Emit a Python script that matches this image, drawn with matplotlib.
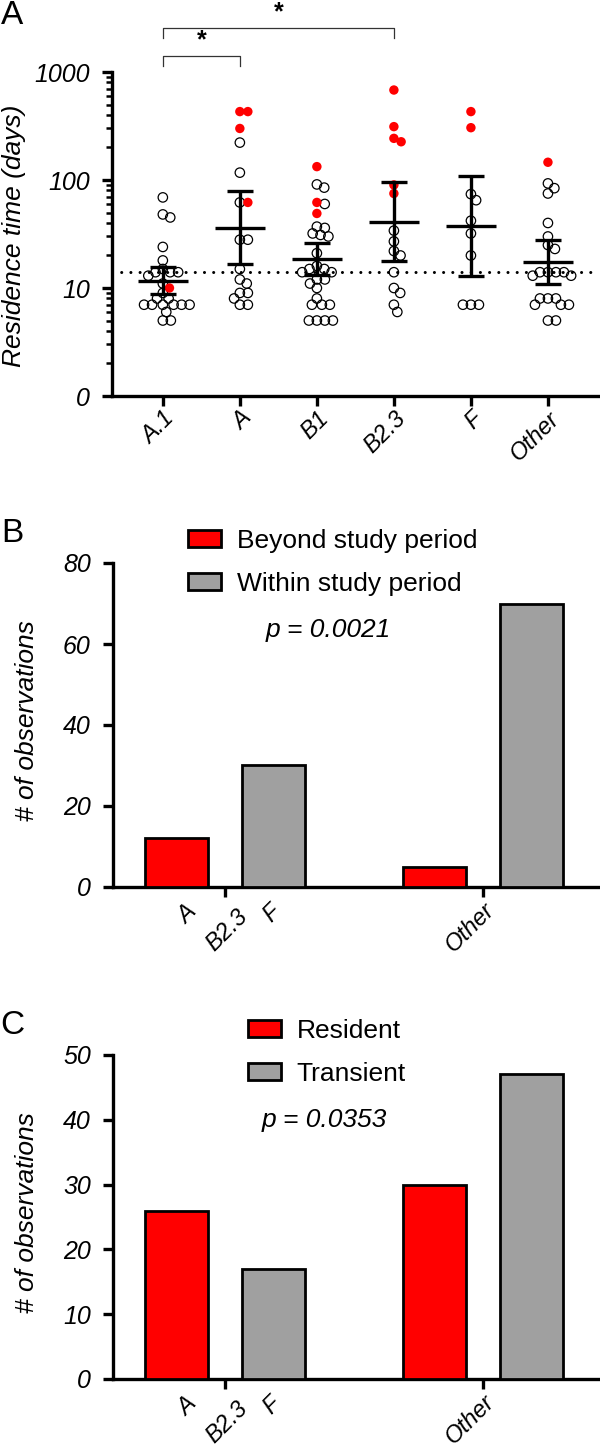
import numpy as np
import matplotlib.pyplot as plt
from matplotlib.patches import Patch
from matplotlib.ticker import LogLocator, NullFormatter, FixedLocator, FixedFormatter

plt.rcParams['font.family'] = ['Liberation Sans', 'DejaVu Sans']

W, H = 600, 1449

# ---- panel A: residence time per group (days) ----
cats = ['A.1', 'A', 'B1', 'B2.3', 'F', 'Other']
open_pts = [
    [69, 48, 45, 24, 18, 15, 14, 14, 14, 13, 11, 9, 8, 8, 7, 7, 7, 7, 7, 7, 6, 5, 5],
    [222, 117, 62, 28, 28, 15, 12, 11, 9, 9, 8, 7, 7],
    [91, 85, 60, 37, 36, 32, 31, 30, 21, 16, 15, 15, 14, 14, 12, 12, 11, 10, 8,
     7, 7, 7, 5, 5, 5, 5],
    [34, 27, 22, 20, 14, 10, 9, 7, 6],
    [74, 65, 42, 32, 20, 7, 7, 7],
    [93, 84, 75, 40, 30, 25, 23, 14, 14, 14, 14, 13, 13, 8, 8, 8, 7, 7, 7, 5, 5],
]
red_pts = [
    [10],
    [430, 430, 300, 62],
    [133, 62, 49],
    [681, 312, 243, 226, 90, 75],
    [430, 305],
    [146],
]
gmean = [11.5, 36, 18.4, 41, 37.7, 17.5]
ci_lo = [8.8, 16.6, 13.2, 17.8, 13, 11]
ci_hi = [15.8, 79, 26.3, 95, 109, 27.8]
cutoff = 14

# ---- panels B and C: counts ----
bar_groups = ['A/B2.3/F', 'Other']
beyond = [12, 5]
within = [30, 70]
resident = [26, 30]
transient = [17, 47]

RED = '#ff0000'
GREY = '#a0a0a0'
LW = 2.4


def fx(x):
    return x / W


def fy(y):
    return 1 - y / H


def px_axes(fig, left, top, right, bottom):
    return fig.add_axes([fx(left), fy(bottom), (right - left) / W, (bottom - top) / H])


def style_axes(ax):
    for s in ['top', 'right']:
        ax.spines[s].set_visible(False)
    for s in ['left', 'bottom']:
        ax.spines[s].set_linewidth(LW)
    ax.tick_params(which='major', length=7, width=LW, labelsize=18)
    ax.tick_params(axis='y', which='major', pad=9)
    ax.tick_params(axis='x', which='major', pad=1, labelsize=17)
    ax.tick_params(which='minor', length=4, width=1.8)
    for lab in ax.get_yticklabels():
        lab.set_fontstyle('italic')


def swarm(ax, x0, vals, d=8.0):
    # simple beeswarm in pixel space
    pts = ax.transData.transform(np.column_stack([np.full(len(vals), x0), vals]))
    ypx = pts[:, 1]
    order = np.argsort(-np.asarray(vals), kind='stable')
    placed = []
    xoff = np.zeros(len(vals))
    for i in order:
        cands = [0.0]
        for xj, yj in placed:
            dy = ypx[i] - yj
            if abs(dy) < d:
                dx = np.sqrt(d * d - dy * dy)
                cands += [xj + dx, xj - dx]
        cands.sort(key=abs)
        for c in cands:
            if all((c - xj) ** 2 + (ypx[i] - yj) ** 2 >= d * d - 1e-6 for xj, yj in placed):
                xoff[i] = c
                break
        placed.append((xoff[i], ypx[i]))
    back = ax.transData.inverted().transform(np.column_stack([pts[:, 0] + xoff, ypx]))
    return back[:, 0]


fig = plt.figure(figsize=(W / 100, H / 100), dpi=100)

# ================= A =================
axA = px_axes(fig, 112, 72, 598, 396)
axA.set_yscale('log')
axA.set_ylim(1, 1000)
axA.set_xlim(-0.66, 5.65)
pos = np.arange(len(cats))

for i in range(len(cats)):
    vals = open_pts[i] + red_pts[i]
    xs = swarm(axA, pos[i], vals)
    n = len(open_pts[i])
    axA.scatter(xs[:n], open_pts[i], s=46, facecolors='none', edgecolors='k',
                linewidths=0.9, zorder=3, clip_on=False)
    axA.scatter(xs[n:], red_pts[i], s=46, facecolors=RED, edgecolors='none',
                zorder=3, clip_on=False)

axA.hlines(gmean, pos - 0.325, pos + 0.325, color='k', lw=LW, zorder=5)
axA.hlines(ci_lo, pos - 0.165, pos + 0.165, color='k', lw=LW, zorder=5)
axA.hlines(ci_hi, pos - 0.165, pos + 0.165, color='k', lw=LW, zorder=5)
axA.vlines(pos, ci_lo, ci_hi, color='k', lw=LW, zorder=5)
axA.axhline(cutoff, color='k', lw=2.2, linestyle=(0, (0.01, 3)),
            dash_capstyle='round', zorder=4)

axA.yaxis.set_major_locator(FixedLocator([1, 10, 100, 1000]))
axA.yaxis.set_major_formatter(FixedFormatter(['0', '10', '100', '1000']))
axA.yaxis.set_minor_locator(LogLocator(base=10, subs=np.arange(2, 10)))
axA.yaxis.set_minor_formatter(NullFormatter())
axA.set_xticks(pos)
axA.set_xticklabels(cats, rotation=45, ha='right', rotation_mode='anchor',
                    fontstyle='italic')
style_axes(axA)

# significance brackets
tr = axA.get_xaxis_transform()
def bracket(x1, x2, ytop, ydrop, ystar):
    axA.plot([x1, x1, x2, x2], [ydrop, ytop, ytop, ydrop], color='#333333',
             lw=0.9, transform=tr, clip_on=False)
    axA.text((x1 + x2) / 2, ystar, '*', transform=tr, ha='center', va='center',
             fontsize=18, fontweight='bold')

bracket(0, 1, (396 - 56) / 324, (396 - 66) / 324, (396 - 40) / 324)
bracket(0, 3, (396 - 28) / 324, (396 - 38) / 324, (396 - 12) / 324)

fig.text(fx(14), fy(236), 'Residence time (days)', rotation=90, ha='center',
         va='center', fontsize=19, fontstyle='italic')
fig.text(fx(12), fy(16), 'A', ha='center', va='center', fontsize=24)


# ================= B & C =================
def bar_panel(top, bottom, red_vals, grey_vals, ymax, step, labels, ptext, pcenter,
              leg_xy, letter, letter_y):
    ax = px_axes(fig, 113, top, 600, bottom)
    gx = np.arange(len(bar_groups))
    ax.bar(gx - 0.188, red_vals, width=0.244, color=RED, edgecolor='k', lw=2.0,
           zorder=3)
    ax.bar(gx + 0.188, grey_vals, width=0.244, color=GREY, edgecolor='k', lw=2.0,
           zorder=3)
    ax.set_xlim(-0.434, 1.453)
    ax.set_ylim(0, ymax)
    ax.set_yticks(np.arange(0, ymax + 1, step))
    ax.set_xticks(gx)
    ax.set_xticklabels(['', 'Other'], rotation=45, ha='right',
                       rotation_mode='anchor', fontstyle='italic')
    style_axes(ax)
    for txt, dx, dy in [('A', -27, -20), ('B2.3', 1, -31), ('F', 34, -19)]:
        ax.annotate(txt, xy=(0, 0), xycoords='data', xytext=(dx, dy),
                    textcoords='offset points', ha='center', va='center',
                    rotation=45, fontsize=17, fontstyle='italic',
                    annotation_clip=False)
    handles = [Patch(facecolor=RED, edgecolor='k', lw=2.0, label=labels[0]),
               Patch(facecolor=GREY, edgecolor='k', lw=2.0, label=labels[1])]
    fig.legend(handles=handles, loc='upper left',
               bbox_to_anchor=(fx(leg_xy[0]), fy(leg_xy[1])), frameon=False,
               fontsize=19, handlelength=1.25, handleheight=0.6,
               handletextpad=0.6, labelspacing=0.72, borderpad=0,
               borderaxespad=0)
    fig.text(fx(pcenter[0]), fy(pcenter[1]), ptext, ha='center', va='center',
             fontsize=19, fontstyle='italic')
    fig.text(fx(27), fy((top + bottom) / 2 - 4), '# of observations', rotation=90,
             ha='center', va='center', fontsize=19, fontstyle='italic')
    fig.text(fx(12), fy(letter_y), letter, ha='center', va='center', fontsize=24)
    return ax


bar_panel(563, 887, beyond, within, 80, 20,
          ['Beyond study period', 'Within study period'], 'p = 0.0021',
          (328, 630), (188, 529), 'B', 533)
bar_panel(1055, 1379, resident, transient, 50, 10,
          ['Resident', 'Transient'], 'p = 0.0353', (324, 1120), (248, 1019), 'C', 1026)

fig.savefig('out.png', dpi=100)
